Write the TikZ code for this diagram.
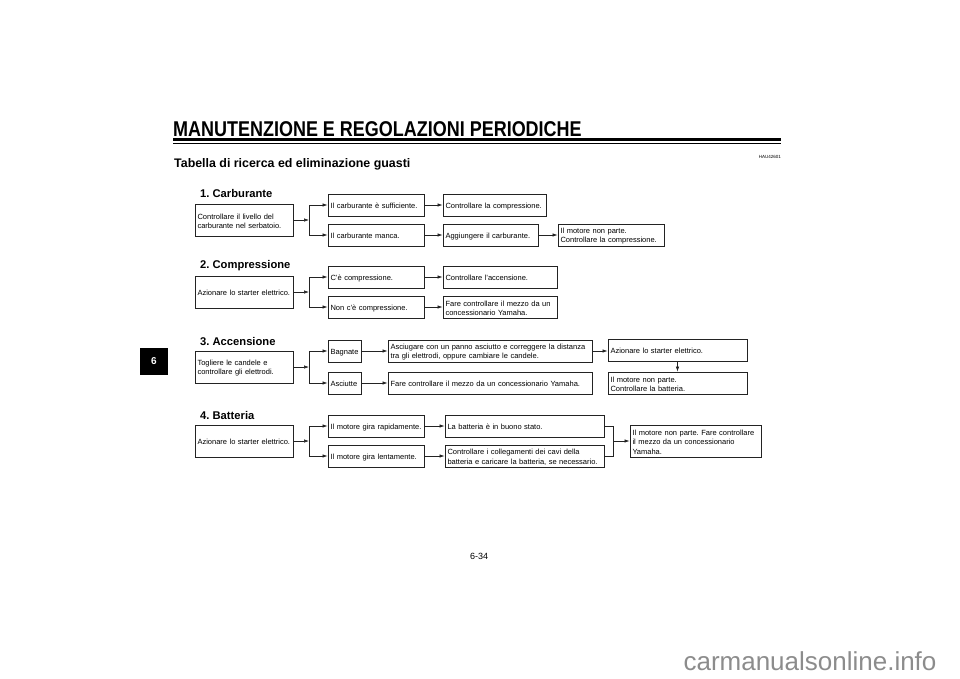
\documentclass[tikz,border=0pt]{standalone}
\usepackage{fontspec}
\setmainfont{Liberation Sans}
\newfontfamily\condfont[FakeStretch=0.84]{Liberation Sans}
\usetikzlibrary{arrows.meta}
\definecolor{frameK}{RGB}{35,35,35}
\definecolor{markG}{RGB}{140,140,140}
\frenchspacing

\begin{document}
\begin{tikzpicture}[x=1pt, y=-1pt,
  >={Latex[length=5pt,width=3.4pt]},
  box/.style={rectangle, draw=frameK, line width=0.8pt, inner xsep=2.5pt, inner ysep=1pt,
              align=left, font=\fontsize{7.5}{9.5}\selectfont,
              execute at begin node={\rule{0pt}{7.8pt}}},
  sbox/.style={box, minimum height=22pt},
  tbox/.style={box, minimum height=32pt},
  link/.style={line width=0.6pt, draw=frameK},
  sect/.style={anchor=west, inner sep=0pt, font=\bfseries\fontsize{11.2}{13}\selectfont}]

  \useasboundingbox (0,0) rectangle (960,678);

  % page header
  \node[anchor=base west, inner sep=0pt, font=\condfont\bfseries\fontsize{21.4}{24}\selectfont]
    (title) at (173,136) {MANUTENZIONE E REGOLAZIONI PERIODICHE};
  \draw[line width=2.2pt] (173,139.5) -- (781,139.5);
  \draw[line width=0.7pt] (173,143.2) -- (781,143.2);
  \node[anchor=east, inner sep=0pt, font=\fontsize{4.5}{5}\selectfont] (code) at (781,157) {HAU42601};
  \node[anchor=west, inner sep=0pt, font=\bfseries\fontsize{12.4}{14}\selectfont]
    (subtitle) at (174,164) {Tabella di ricerca ed eliminazione guasti};
  \node[fill=black, minimum width=28pt, minimum height=27pt, inner sep=0pt, text=white,
        font=\bfseries\fontsize{10}{12}\selectfont] (tab) at (154,361.5) {6};

  % 1. Carburante
  \node[sect] (h1) at (200,193) {1. Carburante};
  \node[tbox, text width=93pt] (c1) at (244,220) {Controllare il livello del\\carburante nel serbatoio.};
  \node[sbox, text width=91pt] (c1y) at (376,205) {Il carburante è sufficiente.};
  \node[sbox, text width=91pt] (c1n) at (376,235) {Il carburante manca.};
  \node[sbox, text width=98pt] (c1comp) at (494.5,205) {Controllare la compressione.};
  \node[sbox, text width=90pt] (c1add) at (490.5,235) {Aggiungere il carburante.};
  \node[sbox, text width=101pt] (c1fail) at (611,235) {Il motore non parte.\\Controllare la compressione.};
  \coordinate (j1) at (309,220);
  \draw[link, ->] (c1) -- (j1);
  \draw[link] (j1 |- c1y) -- (j1 |- c1n);
  \draw[link, ->] (j1 |- c1y) -- (c1y);
  \draw[link, ->] (j1 |- c1n) -- (c1n);
  \draw[link, ->] (c1y) -- (c1comp);
  \draw[link, ->] (c1n) -- (c1add);
  \draw[link, ->] (c1add) -- (c1fail);

  % 2. Compressione
  \node[sect] (h2) at (200,266) {2. Compressione};
  \node[tbox, text width=93pt] (c2) at (244,292) {Azionare lo starter elettrico.};
  \node[sbox, text width=91pt] (c2y) at (376,277) {C'è compressione.};
  \node[sbox, text width=91pt] (c2n) at (376,307) {Non c'è compressione.};
  \node[sbox, text width=109pt] (c2ign) at (500,277) {Controllare l'accensione.};
  \node[sbox, text width=109pt] (c2dealer) at (500,307) {Fare controllare il mezzo da un\\concessionario Yamaha.};
  \coordinate (j2) at (309,292);
  \draw[link, ->] (c2) -- (j2);
  \draw[link] (j2 |- c2y) -- (j2 |- c2n);
  \draw[link, ->] (j2 |- c2y) -- (c2y);
  \draw[link, ->] (j2 |- c2n) -- (c2n);
  \draw[link, ->] (c2y) -- (c2ign);
  \draw[link, ->] (c2n) -- (c2dealer);

  % 3. Accensione
  \node[sect] (h3) at (200,341) {3. Accensione};
  \node[tbox, text width=93pt] (c3) at (244,367) {Togliere le candele e\\controllare gli elettrodi.};
  \node[sbox, text width=28pt] (c3wet) at (344.5,351) {Bagnate};
  \node[sbox, text width=28pt] (c3dry) at (344.5,383) {Asciutte};
  \node[sbox, text width=199pt] (c3fix) at (490,351)
    {Asciugare con un panno asciutto e correggere la distanza\\tra gli elettrodi, oppure cambiare le candele.};
  \node[sbox, text width=199pt] (c3dealer) at (490,383) {Fare controllare il mezzo da un concessionario Yamaha.};
  \node[sbox, text width=134pt] (c3start) at (677.5,350) {Azionare lo starter elettrico.};
  \node[sbox, text width=134pt] (c3fail) at (677.5,383) {Il motore non parte.\\Controllare la batteria.};
  \coordinate (j3) at (309,367);
  \draw[link, ->] (c3) -- (j3);
  \draw[link] (j3 |- c3wet) -- (j3 |- c3dry);
  \draw[link, ->] (j3 |- c3wet) -- (c3wet);
  \draw[link, ->] (j3 |- c3dry) -- (c3dry);
  \draw[link, ->] (c3wet) -- (c3fix);
  \draw[link, ->] (c3dry) -- (c3dealer);
  \draw[link, ->] (c3fix.east) -- (c3fix.east -| c3start.west);
  \draw[link, ->] (c3start) -- (c3fail);

  % 4. Batteria
  \node[sect] (h4) at (200,415) {4. Batteria};
  \node[tbox, text width=93pt] (c4) at (244,441) {Azionare lo starter elettrico.};
  \node[sbox, text width=91pt] (c4fast) at (376,426) {Il motore gira rapidamente.};
  \node[sbox, text width=91pt] (c4slow) at (376,456) {Il motore gira lentamente.};
  \node[sbox, text width=154pt] (c4ok) at (524.5,426) {La batteria è in buono stato.};
  \node[sbox, text width=154pt] (c4cable) at (524.5,456)
    {Controllare i collegamenti dei cavi della\\batteria e caricare la batteria, se necessario.};
  \node[box, text width=126pt, minimum height=32pt] (c4fail) at (695.5,441)
    {Il motore non parte. Fare controllare\\il mezzo da un concessionario\\Yamaha.};
  \coordinate (j4) at (309,441);
  \coordinate (m4) at (613,441);
  \draw[link, ->] (c4) -- (j4);
  \draw[link] (j4 |- c4fast) -- (j4 |- c4slow);
  \draw[link, ->] (j4 |- c4fast) -- (c4fast);
  \draw[link, ->] (j4 |- c4slow) -- (c4slow);
  \draw[link, ->] (c4fast) -- (c4ok);
  \draw[link, ->] (c4slow) -- (c4cable);
  \draw[link] (c4ok.east) -| (m4);
  \draw[link] (c4cable.east) -| (m4);
  \draw[link, ->] (m4) -- (c4fail);

  % footer
  \node[font=\fontsize{9}{10}\selectfont] (page) at (479,556) {6-34};
  \node[text=markG, font=\fontsize{26}{28}\selectfont] (mark) at (810,661) {carmanualsonline.info};
\end{tikzpicture}
\end{document}
